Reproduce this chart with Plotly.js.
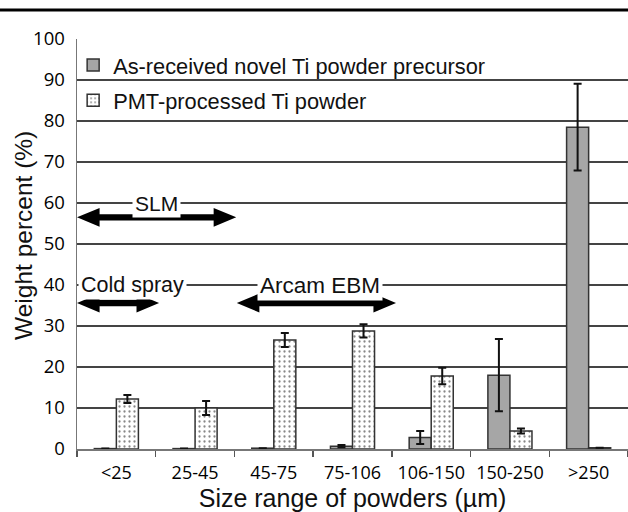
<!DOCTYPE html>
<html>
<head>
<meta charset="utf-8">
<script src="https://cdn.plot.ly/plotly-3.0.1.min.js"></script>
<style>html,body{margin:0;padding:0;background:#fff;}#chart{width:628px;height:512px;}</style>
</head>
<body>
<div id="chart"></div>
<script>
// ---- data ----
var categories = ["<25", "25-45", "45-75", "75-106", "106-150", "150-250", ">250"];
var asReceived = [0.1, 0.1, 0.2, 0.7, 2.8, 18.0, 78.5];
var asReceivedErr = [0, 0, 0, 0.3, 1.6, 8.8, 10.6];
var pmtProcessed = [12.2, 10.0, 26.6, 28.8, 17.8, 4.4, 0.3];
var pmtProcessedErr = [1.0, 1.7, 1.7, 1.6, 2.0, 0.6, 0];
var seriesNames = ["As-received novel Ti powder precursor", "PMT-processed Ti powder"];
var yTicks = [0, 10, 20, 30, 40, 50, 60, 70, 80, 90, 100];
var xTitle = "Size range of powders (µm)";
var yTitle = "Weight percent (%)";

// process windows (labels, arrow extents in paper x, arrow height, label position)
var windowLabels = ["SLM", "Cold spray", "Arcam EBM"];
var windowStart = [0.0, 0.0, 0.290];
var windowEnd = [0.289, 0.149, 0.579];
var windowArrowY = [56.5, 35.6, 35.6];
var windowLabelX = [0.145, 0.101, 0.441];
var windowLabelY = [60, 40, 40];
var windowFontSize = [21, 21.5, 22.5];

var FONT = "Liberation Sans, Arial, sans-serif";
var TICKFONT = "Open Sans, Liberation Sans, sans-serif";

var traces = [
  {
    type: "bar", name: seriesNames[0], x: categories, y: asReceived,
    legendgroup: "a",
    marker: {color: "#a6a6a6", line: {color: "#333", width: 1.5}},
    error_y: {type: "data", array: asReceivedErr, visible: true, color: "#111", thickness: 2, width: 4}
  },
  {
    type: "bar", name: seriesNames[1], x: categories, y: pmtProcessed,
    legendgroup: "b",
    marker: {color: "#ffffff", line: {color: "#333", width: 1.5},
      pattern: {shape: ".", fgcolor: "#888", bgcolor: "#ffffff", size: 5, solidity: 0.16}},
    error_y: {type: "data", array: pmtProcessedErr, visible: true, color: "#111", thickness: 2, width: 4}
  }
];

function dblArrow(x0, x1, y) {
  var hl = 0.041, hh = 2.3, sh = 0.78;
  var p = [[x0, y], [x0 + hl, y + hh], [x0 + hl, y + sh], [x1 - hl, y + sh], [x1 - hl, y + hh], [x1, y],
           [x1 - hl, y - hh], [x1 - hl, y - sh], [x0 + hl, y - sh], [x0 + hl, y - hh]];
  return "M" + p.map(function (q) { return q[0] + "," + q[1]; }).join(" L") + " Z";
}

var shapes = [];
var annotations = [];
for (var i = 0; i < windowLabels.length; i++) {
  shapes.push({type: "path", xref: "paper", yref: "y", path: dblArrow(windowStart[i], windowEnd[i], windowArrowY[i]),
    fillcolor: "#000", line: {width: 0}});
  annotations.push({xref: "paper", yref: "y", x: windowLabelX[i], y: windowLabelY[i], text: windowLabels[i],
    xanchor: "center", yanchor: "middle",
    showarrow: false, bgcolor: "#fff", borderpad: 2, font: {family: FONT, size: windowFontSize[i], color: "#111"}});
}
// y-axis title placed as rotated text
annotations.push({xref: "paper", yref: "paper", x: -0.0962, y: 0.522, text: yTitle, textangle: -90,
  xanchor: "center", yanchor: "middle", showarrow: false, font: {family: FONT, size: 24.5, color: "#111"}});
// top rule of the page
shapes.push({type: "line", xref: "paper", yref: "paper", x0: -0.2, x1: 1.1, y0: 1.0707, y1: 1.0707,
  line: {color: "#000", width: 3}});

var layout = {
  width: 628, height: 512,
  margin: {l: 77, r: 0, t: 39, b: 63},
  paper_bgcolor: "#fff", plot_bgcolor: "#fff",
  font: {family: FONT, color: "#111"},
  barmode: "group", bargap: 0.44, bargroupgap: 0,
  showlegend: true,
  legend: {x: -0.007, y: 0.987, xanchor: "left", yanchor: "top", bgcolor: "rgba(0,0,0,0)",
    font: {family: FONT, size: 21.8, color: "#111"}, traceorder: "grouped", tracegroupgap: 4},
  xaxis: {
    type: "category", tickson: "boundaries", ticks: "outside", ticklen: 6, tickcolor: "#555", tickwidth: 1.5,
    showline: true, linecolor: "#777", linewidth: 1.5, showgrid: false,
    tickfont: {family: TICKFONT, size: 18, color: "#000"}, ticklabelstandoff: 7,
    title: {text: xTitle, font: {family: FONT, size: 25, color: "#111"}, standoff: 8}
  },
  yaxis: {
    range: [0, 100], tickvals: yTicks, ticks: "", showline: true, linecolor: "#777", linewidth: 1.5,
    showgrid: true, gridcolor: "#444", gridwidth: 1.5, zeroline: false,
    tickfont: {family: TICKFONT, size: 18.5, color: "#000"}, ticklabelstandoff: 7
  },
  shapes: shapes,
  annotations: annotations
};

Plotly.newPlot("chart", traces, layout, {displayModeBar: false, staticPlot: true});
</script>
</body>
</html>
